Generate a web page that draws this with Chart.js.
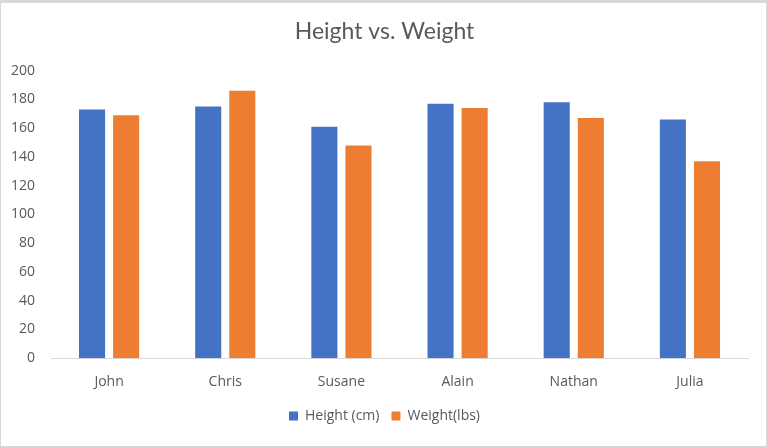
<!DOCTYPE html>
<html>
<head>
<meta charset="utf-8">
<script src="https://cdn.jsdelivr.net/npm/chart.js@4/dist/chart.umd.min.js"></script>
<style>
html,body{margin:0;padding:0;background:#fff;}
#wrap{position:absolute;left:0;top:0;width:767px;height:447px;box-sizing:border-box;border:1px solid #d9d9d9;border-top:3px solid #d9d9d9;}
canvas{display:block;}
</style>
</head>
<body>
<div id="wrap"><canvas id="c" width="765" height="443"></canvas></div>
<script>
const categories = ["John","Chris","Susane","Alain","Nathan","Julia"];
const heightCm = [173,175,161,177,178,166];
const weightLbs = [169,186,148,174,167,137];
const seriesNames = ["Height (cm)","Weight(lbs)"];

new Chart(document.getElementById('c'), {
  type: 'bar',
  data: {
    labels: categories,
    datasets: [
      {label: seriesNames[0], data: heightCm, backgroundColor: '#4472C4', borderWidth: 0},
      {label: seriesNames[1], data: weightLbs, backgroundColor: '#ED7D31', borderWidth: 0}
    ]
  },
  options: {
    responsive: false,
    animation: false,
    devicePixelRatio: 1,
    categoryPercentage: 0.587,
    barPercentage: 0.765,
    layout: {padding: {left: 2, right: 0, top: 5, bottom: 13}},
    plugins: {
      title: {display: true, text: 'Height vs. Weight', color: '#595959',
        font: {family: 'Lato', size: 23, weight: 'normal'}, padding: {top: 10, bottom: 25}},
      legend: {position: 'bottom', labels: {color: '#595959', font: {family: 'Open Sans', size: 14},
        boxWidth: 9, boxHeight: 9, padding: 12}},
      tooltip: {enabled: false}
    },
    scales: {
      x: {grid: {display: false}, border: {display: true, color: '#d9d9d9', width: 1},
        ticks: {color: '#595959', font: {family: 'Open Sans', size: 14}, padding: 7}},
      y: {min: 0, max: 200, grid: {display: false}, border: {display: false},
        ticks: {stepSize: 20, color: '#595959', font: {family: 'Open Sans', size: 14}, padding: 8}},
      yR: {position: 'right', display: true, grid: {display: false}, border: {display: false},
        ticks: {display: false}, afterFit: function(s){ s.width = 18; }}
    }
  }
});
</script>
</body>
</html>
